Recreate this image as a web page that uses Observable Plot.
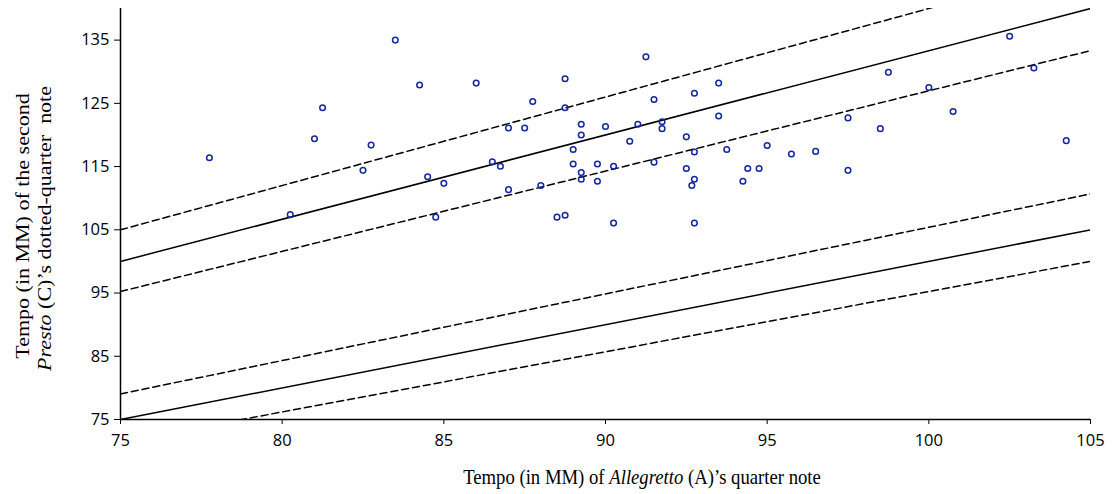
<!DOCTYPE html>
<html>
<head>
<meta charset="utf-8">
<script src="https://cdn.jsdelivr.net/npm/d3@7"></script>
<script src="https://cdn.jsdelivr.net/npm/@observablehq/plot@0.6"></script>
<style>
  html, body { margin: 0; padding: 0; background: #fff; }
  g[aria-label="x-axis tick label"], g[aria-label="y-axis tick label"] {
    font-family: "Open Sans", sans-serif !important;
    font-size: 16.5px !important;
  }
</style>
</head>
<body>
<div id="chart"></div>
<script>
// Tempo (MM) of Allegretto (A)'s quarter note
const allegretto = [
  77.75, 80.25, 81.0, 81.25, 83.5, 84.25, 82.5, 82.75, 84.5, 85.0, 84.75,
  86.0, 86.5, 86.75, 87.0, 87.5, 87.0, 87.75, 88.0, 88.5, 88.75, 88.75, 88.75,
  89.0, 89.0, 89.25, 89.25, 89.25, 89.25, 89.75, 89.75, 90.0, 90.25, 90.25,
  90.75, 91.0, 91.25, 91.5, 91.5, 91.75, 91.75, 92.5, 92.5, 92.75, 92.75,
  92.75, 92.67, 92.75, 93.5, 93.5, 93.75, 94.25, 94.4, 94.75, 95.0,
  95.75, 96.5, 97.5, 97.5, 98.5, 98.75, 100.0, 100.75, 102.5, 103.25, 104.25
];
// Tempo (MM) of the second Presto (C)'s dotted-quarter note
const presto = [
  116.4, 107.4, 119.4, 124.3, 135.0, 127.9, 114.4, 118.4, 113.4, 112.35, 107.0,
  128.2, 115.75, 115.05, 121.1, 121.1, 111.35, 125.3, 112.0, 107.0, 107.3, 128.9, 124.3,
  117.7, 115.4, 121.7, 120.0, 114.05, 113.0, 115.4, 112.67, 121.35, 115.05, 106.06,
  119.0, 121.7, 132.35, 125.6, 115.7, 122.1, 121.0, 119.7, 114.7, 126.6, 117.3,
  113.0, 112.0, 106.06, 128.2, 123.0, 117.7, 112.67, 114.7, 114.7, 118.33,
  117.0, 117.4, 122.7, 114.4, 121.0, 129.9, 127.5, 123.7, 135.6, 130.6, 119.1
];

// Reference lines y = ratio * x
const lineNames   = ["4/3 ×1.05", "4/3", "4/3 ÷1.05", "1 ×1.054", "1", "1 ÷1.05"];
const lineRatios  = [4 / 3 * 1.05, 4 / 3, 4 / 3 / 1.05, 1.054, 1, 1 / 1.05];
const lineDashed  = [true, false, true, true, false, true];

const xDomain = [75, 105];
const yDomain = [75, 140];
const xTicks = [75, 80, 85, 90, 95, 100, 105];
const yTicks = [75, 85, 95, 105, 115, 125, 135];

const lineData = lineNames.flatMap((name, i) =>
  xDomain.map(x => ({ name, x, y: lineRatios[i] * x, dashed: lineDashed[i] }))
);
const points = allegretto.map((a, i) => ({ a, c: presto[i] }));

const chart = Plot.plot({
  width: 1115,
  height: 494,
  marginLeft: 120,
  marginRight: 25,
  marginTop: 8,
  marginBottom: 75,
  style: { fontFamily: "'Open Sans', sans-serif", fontSize: "16px", color: "#000", background: "#fff" },
  x: { domain: xDomain, label: null },
  y: { domain: yDomain, label: null },
  marks: [
    Plot.axisX(xTicks, { tickSize: 5, tickPadding: 10, fontSize: 16.5, label: null }),
    Plot.axisY(yTicks, { tickSize: 6, tickPadding: 5, fontSize: 16.5, label: null }),
    Plot.line(lineData.filter(d => !d.dashed), { x: "x", y: "y", z: "name", stroke: "#000", strokeWidth: 1.5, clip: true }),
    Plot.line(lineData.filter(d => d.dashed), { x: "x", y: "y", z: "name", stroke: "#000", strokeWidth: 1.5, strokeDasharray: "7,4", clip: true }),
    Plot.dot(points, { x: "a", y: "c", r: 2.8, stroke: "#1226a0", strokeWidth: 1.5, fill: "none" }),
    Plot.ruleX([75], { stroke: "#000", strokeWidth: 1.5 }),
    Plot.ruleY([75], { stroke: "#000", strokeWidth: 1.5 })
  ]
});

document.getElementById("chart").appendChild(chart);

const svg = d3.select(chart);
svg.selectAll('g[aria-label="x-axis tick label"], g[aria-label="y-axis tick label"]')
  .attr("font-size", 16.5)
  .attr("font-family", "'Open Sans', sans-serif");

const serif = "'Liberation Serif', 'Times New Roman', serif";

const xl = svg.append("text")
  .attr("transform", "translate(642,476) scale(0.85,1)")
  .attr("text-anchor", "middle")
  .attr("dominant-baseline", "central")
  .attr("font-family", serif)
  .attr("font-size", 22)
  .attr("fill", "#000");
xl.append("tspan").text("Tempo (in MM) of ");
xl.append("tspan").attr("font-style", "italic").text("Allegretto");
xl.append("tspan").text(" (A)’s quarter note");

const yl1 = svg.append("text")
  .attr("transform", "translate(23,226) scale(0.85,1) rotate(-90)")
  .attr("text-anchor", "middle")
  .attr("dominant-baseline", "central")
  .attr("font-family", serif)
  .attr("font-size", 22)
  .attr("fill", "#000")
  .text("Tempo (in MM) of the second");

const yl2 = svg.append("text")
  .attr("transform", "translate(44.5,228.5) scale(0.85,1) rotate(-90)")
  .attr("text-anchor", "middle")
  .attr("dominant-baseline", "central")
  .attr("font-family", serif)
  .attr("font-size", 22)
  .attr("fill", "#000");
yl2.append("tspan").attr("font-style", "italic").text("Presto");
yl2.append("tspan").text(" (C)’s dotted-quarter\u00a0 note");
</script>
</body>
</html>
